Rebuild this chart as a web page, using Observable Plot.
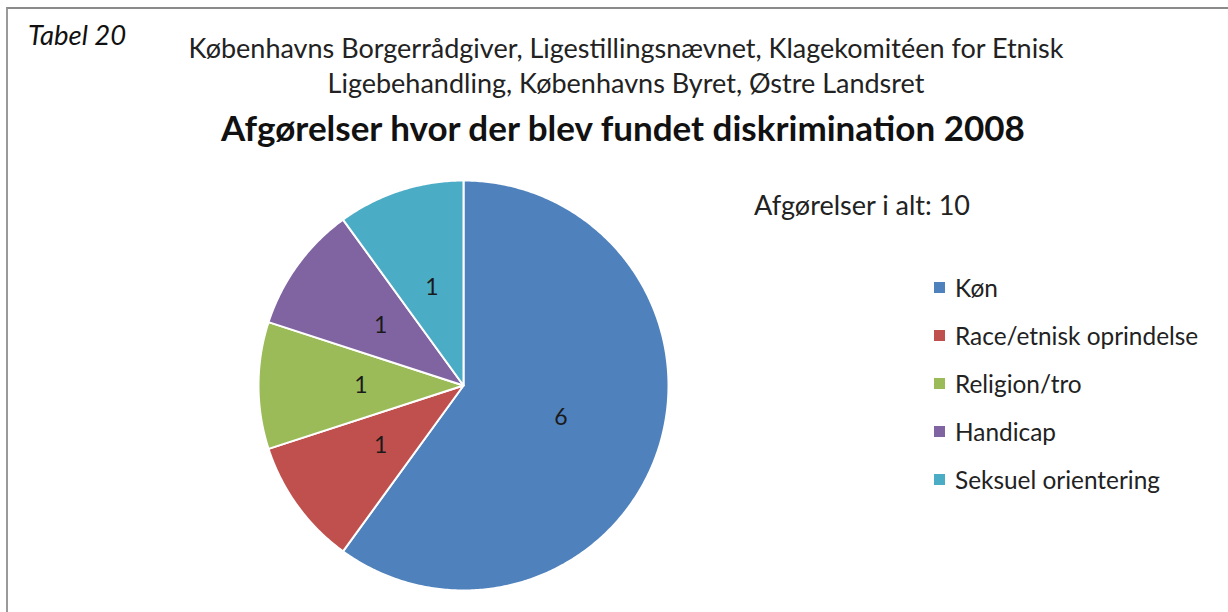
<!DOCTYPE html>
<html>
<head>
<meta charset="utf-8">
<script src="https://cdn.jsdelivr.net/npm/d3@7"></script>
<script src="https://cdn.jsdelivr.net/npm/@observablehq/plot@0.6"></script>
<style>
  html, body { margin: 0; padding: 0; background: #fff; }
  body { width: 1228px; height: 612px; overflow: hidden; position: relative; font-family: Lato, "Open Sans", sans-serif; color: #222; }
  #frame { position: absolute; left: 6px; top: 7px; width: 1300px; height: 700px; border-top: 2px solid #8a8a8a; border-left: 2px solid #9a9a9a; }
  #tabel { position: absolute; left: 28px; top: 18px; font-size: 27.5px; line-height: 34px; font-style: italic; color: #111; }
  #subtitle { position: absolute; left: 0; width: 1252px; top: 30px; text-align: center; font-size: 27px; line-height: 35px; color: #222; }
  #title { position: absolute; left: 0; width: 1246px; top: 107px; text-align: center; font-size: 35px; line-height: 40px; font-weight: bold; color: #111; }
  #total { position: absolute; left: 754px; top: 190px; font-size: 27px; line-height: 30px; color: #222; }
  #legend { position: absolute; left: 934px; top: 263px; font-size: 24.4px; color: #222; }
  .item { height: 48px; display: flex; align-items: center; }
  .sw { width: 11px; height: 11px; margin-right: 10px; }
  #chart { position: absolute; left: 257px; top: 179px; }
</style>
</head>
<body>
<div id="frame"></div>
<div id="tabel">Tabel 20</div>
<div id="subtitle">Københavns Borgerrådgiver, Ligestillingsnævnet, Klagekomitéen for Etnisk<br>Ligebehandling, Københavns Byret, Østre Landsret</div>
<div id="title">Afgørelser hvor der blev fundet diskrimination 2008</div>
<div id="total">Afgørelser i alt: 10</div>
<div id="legend"></div>
<div id="chart"></div>
<script>
const categories = ["Køn", "Race/etnisk oprindelse", "Religion/tro", "Handicap", "Seksuel orientering"];
const values = [6, 1, 1, 1, 1];
const colors = ["#4F81BD", "#C0504D", "#9BBB59", "#8064A2", "#4BACC6"];

const data = categories.map((c, i) => ({category: c, value: values[i]}));
const arcs = d3.pie().sort(null).value(d => d.value)(data);

// polygon outline of each slice in unit-circle coordinates (angle clockwise from 12 o'clock)
const outline = [];
arcs.forEach(a => {
  const n = Math.max(4, Math.ceil((a.endAngle - a.startAngle) / 0.01));
  outline.push({category: a.data.category, x: 0, y: 0});
  for (let k = 0; k <= n; k++) {
    const t = a.startAngle + (a.endAngle - a.startAngle) * k / n;
    outline.push({category: a.data.category, x: Math.sin(t), y: Math.cos(t)});
  }
  outline.push({category: a.data.category, x: 0, y: 0});
});
const labels = arcs.map(a => {
  const m = (a.startAngle + a.endAngle) / 2;
  return {category: a.data.category, value: a.data.value, x: 0.5 * Math.sin(m), y: 0.5 * Math.cos(m)};
});

const plot = Plot.plot({
  width: 412, height: 412,
  margin: 1,
  x: {domain: [-1, 1], axis: null},
  y: {domain: [-1, 1], axis: null},
  color: {domain: categories, range: colors},
  marks: [
    Plot.line(outline, {x: "x", y: "y", z: "category", fill: "category", stroke: "white", strokeWidth: 2, curve: "linear-closed"}),
    Plot.text(labels, {x: "x", y: "y", text: d => String(d.value), fill: "#1a1a1a", fontSize: 23, fontFamily: "Lato, sans-serif"})
  ]
});
document.getElementById("chart").appendChild(plot);

const legend = document.getElementById("legend");
categories.forEach((c, i) => {
  const row = document.createElement("div");
  row.className = "item";
  const sw = document.createElement("div");
  sw.className = "sw";
  sw.style.background = colors[i];
  const lab = document.createElement("span");
  lab.textContent = c;
  row.appendChild(sw); row.appendChild(lab);
  legend.appendChild(row);
});
</script>
</body>
</html>
